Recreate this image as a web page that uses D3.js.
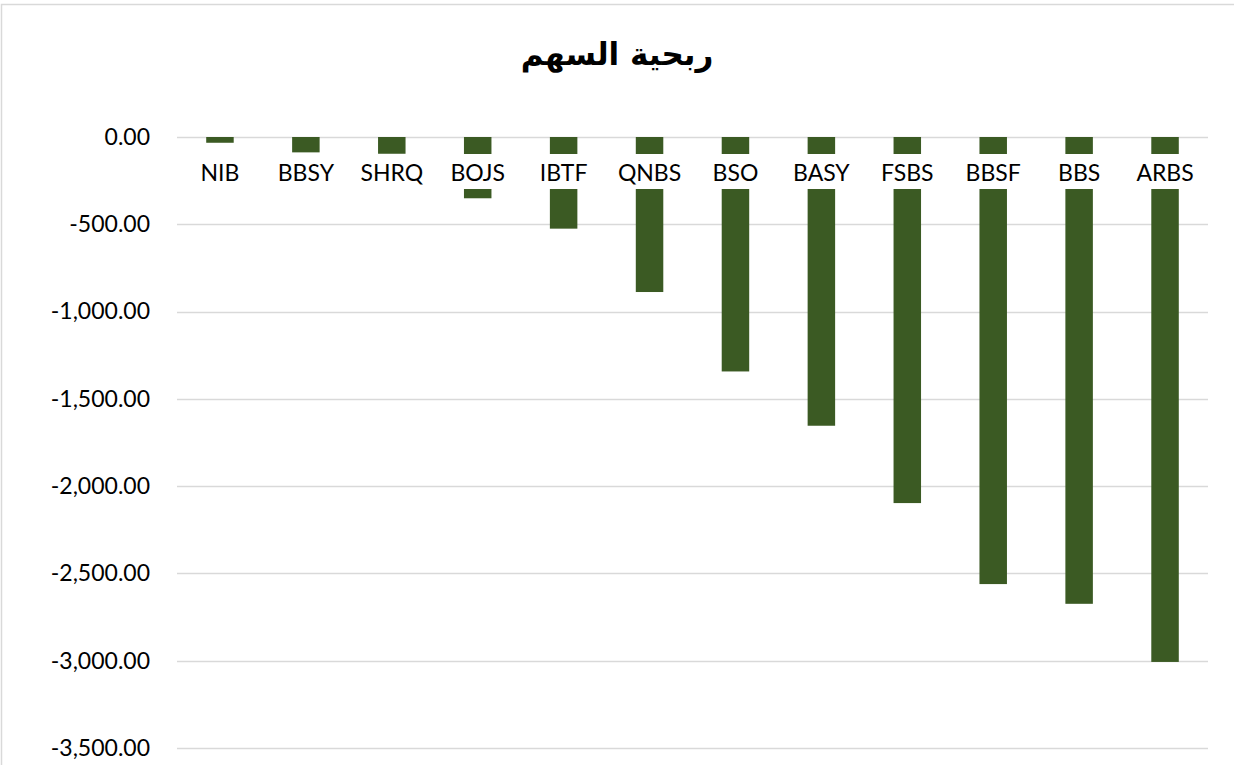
<!DOCTYPE html>
<html>
<head>
<meta charset="utf-8">
<script src="https://cdn.jsdelivr.net/npm/d3@7"></script>
<style>
  html, body { margin: 0; padding: 0; background: #fff; }
  svg { display: block; }
</style>
</head>
<body>
<div id="chart"></div>
<script>
// data
var categories = [ "NIB", "BBSY", "SHRQ", "BOJS", "IBTF", "QNBS", "BSO", "BASY", "FSBS", "BBSF", "BBS", "ARBS" ];
var values = [ -33, -88, -96, -351, -525, -888, -1343, -1654, -2097, -2561, -2674, -3007 ];
var yTicks = [ 0, -500, -1000, -1500, -2000, -2500, -3000, -3500 ];
var title = "ربحية السهم";

var width = 1234, height = 765;
var margin = { top: 137, right: 26, bottom: 17, left: 177 };
var barColor = "#3b5a23";
var labelFont = "Lato, 'Open Sans', sans-serif";

var svg = d3.select( "#chart" ).append( "svg" )
  .attr( "width", width )
  .attr( "height", height );

// chart frame
svg.append( "rect" )
  .attr( "x", 1.5 ).attr( "y", 4.5 )
  .attr( "width", width + 10 ).attr( "height", height + 10 )
  .attr( "fill", "none" )
  .attr( "stroke", "#d9d9d9" )
  .attr( "stroke-width", 1.5 );

var x = d3.scaleBand()
  .domain( categories )
  .range( [ margin.left, width - margin.right ] )
  .paddingInner( 0.68 )
  .paddingOuter( 0.34 );

var y = d3.scaleLinear()
  .domain( [ 0, -3500 ] )
  .range( [ margin.top, height - margin.bottom ] );

// gridlines
svg.append( "g" )
  .selectAll( "line" )
  .data( yTicks )
  .join( "line" )
  .attr( "x1", margin.left )
  .attr( "x2", width - margin.right )
  .attr( "y1", function( d ) { return Math.round( y( d ) ) + 0.5; } )
  .attr( "y2", function( d ) { return Math.round( y( d ) ) + 0.5; } )
  .attr( "stroke", "#d9d9d9" )
  .attr( "stroke-width", 1.5 );

// y axis labels
var fmt = d3.format( ",.2f" );
var yAxis = d3.axisLeft( y )
  .tickValues( yTicks )
  .tickSize( 0 )
  .tickPadding( 27 )
  .tickFormat( function( d ) { return fmt( d ).replace( "−", "-" ); } );

var gy = svg.append( "g" )
  .attr( "transform", "translate(" + margin.left + ",0)" )
  .call( yAxis );
gy.select( ".domain" ).remove();
gy.selectAll( "text" )
  .attr( "font-family", labelFont )
  .attr( "font-size", 23 )
  .attr( "fill", "#000" );

// bars
svg.append( "g" )
  .selectAll( "rect" )
  .data( values )
  .join( "rect" )
  .attr( "x", function( d, i ) { return x( categories[ i ] ); } )
  .attr( "width", x.bandwidth() )
  .attr( "y", function( d ) { return y( Math.max( 0, d ) ); } )
  .attr( "height", function( d ) { return Math.abs( y( d ) - y( 0 ) ); } )
  .attr( "fill", barColor );

// category labels sit next to the zero line on a white box
var labels = svg.append( "g" )
  .selectAll( "g" )
  .data( categories )
  .join( "g" )
  .attr( "transform", function( d ) {
    return "translate(" + ( x( d ) + x.bandwidth() / 2 ) + "," + ( y( 0 ) + 44 ) + ")";
  } );

labels.append( "text" )
  .attr( "text-anchor", "middle" )
  .attr( "font-family", labelFont )
  .attr( "font-size", 23 )
  .attr( "fill", "#000" )
  .text( function( d ) { return d; } );

labels.each( function() {
  var g = d3.select( this );
  var box = g.select( "text" ).node().getBBox();
  g.insert( "rect", "text" )
    .attr( "x", box.x - 4 )
    .attr( "y", -27 )
    .attr( "width", box.width + 8 )
    .attr( "height", 35 )
    .attr( "fill", "#fff" );
} );

// title
svg.append( "text" )
  .attr( "x", 617 )
  .attr( "y", 65 )
  .attr( "text-anchor", "middle" )
  .attr( "direction", "rtl" )
  .attr( "font-family", "'DejaVu Sans', sans-serif" )
  .attr( "font-weight", "bold" )
  .attr( "font-size", 31 )
  .attr( "fill", "#000" )
  .text( title );
</script>
</body>
</html>
